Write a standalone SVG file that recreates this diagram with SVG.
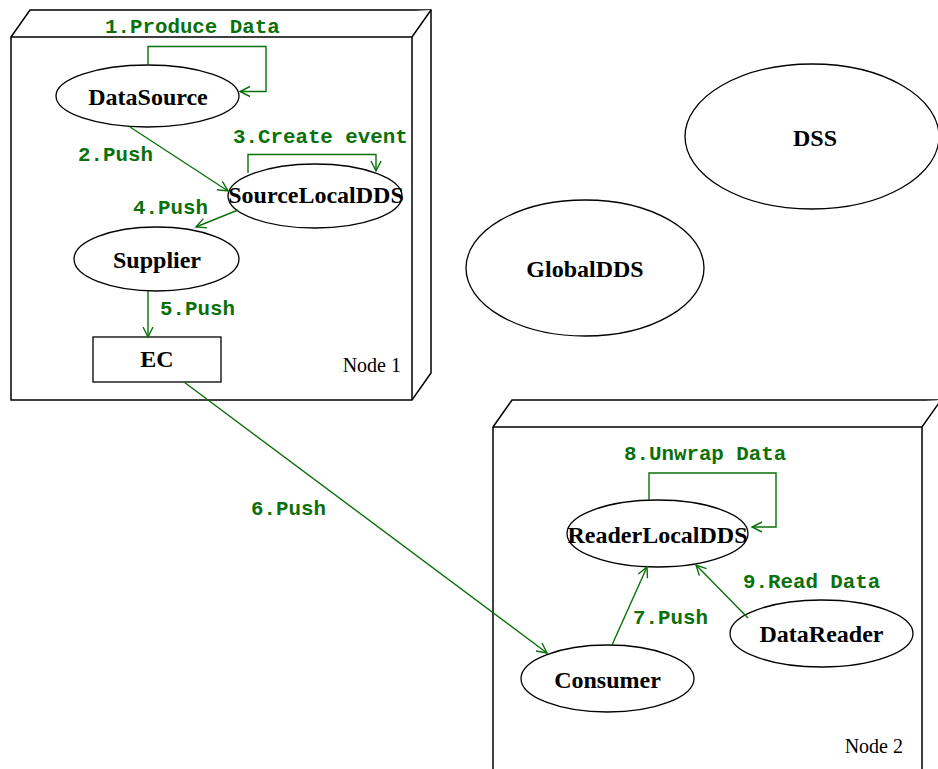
<svg xmlns="http://www.w3.org/2000/svg" width="938" height="769" viewBox="0 0 938 769">
<style>
.box{fill:#fff;stroke:#000;stroke-width:1.5}
.nd{fill:#fff;stroke:#000;stroke-width:1.3}
.nt{font-family:"Liberation Serif",serif;font-weight:bold;font-size:24px;fill:#000;text-anchor:middle}
.nl{font-family:"Liberation Serif",serif;font-size:20px;fill:#000;text-anchor:end}
.c{fill:none;stroke:#0a700a;stroke-width:1.4}
.cl{font-family:"Liberation Mono",monospace;font-weight:bold;font-size:20.8px;fill:#0a700a}
</style>
<defs>
<marker id="ah" markerUnits="userSpaceOnUse" markerWidth="14" markerHeight="14" refX="11" refY="6" orient="auto">
<path d="M1,1 L11,6 L1,11" fill="none" stroke="#0a700a" stroke-width="1.4"/>
</marker>
</defs>
<g id="node1">
<path class="box" d="M11,37 L30,10 L431,10 L431,373 L412,400 L11,400 Z"/>
<path class="box" d="M11,37 L412,37 L431,10 M412,37 L412,400"/>
<text class="nl" x="401" y="372">Node 1</text>
</g>
<g id="node2">
<path class="box" d="M493,427 L512,400 L941,400 L941,780 L493,780 Z"/>
<path class="box" d="M493,427 L922,427 L941,400 M922,427 L922,780"/>
<text class="nl" x="903" y="753">Node 2</text>
</g>
<g id="DSS"><ellipse class="nd" cx="812" cy="136.5" rx="127" ry="72.5"/><text class="nt" x="815" y="146">DSS</text></g>
<g id="GlobalDDS"><ellipse class="nd" cx="585" cy="268" rx="119" ry="68"/><text class="nt" x="585" y="277">GlobalDDS</text></g>
<g id="DataSource"><ellipse class="nd" cx="147.5" cy="96" rx="91.5" ry="31"/><text class="nt" x="148" y="105">DataSource</text></g>
<g id="SourceLocalDDS"><ellipse class="nd" cx="315" cy="196" rx="87" ry="32"/><text class="nt" x="316" y="203">SourceLocalDDS</text></g>
<g id="Supplier"><ellipse class="nd" cx="156.5" cy="259" rx="82.5" ry="32"/><text class="nt" x="157" y="268">Supplier</text></g>
<g id="EC"><rect class="nd" x="93" y="337" width="128" height="45"/><text class="nt" x="157" y="367">EC</text></g>
<g id="ReaderLocalDDS"><ellipse class="nd" cx="657.5" cy="533.5" rx="90.5" ry="33.5"/><text class="nt" x="657.5" y="543">ReaderLocalDDS</text></g>
<g id="Consumer"><ellipse class="nd" cx="607.5" cy="678.5" rx="86.5" ry="33.5"/><text class="nt" x="607.5" y="688">Consumer</text></g>
<g id="DataReader"><ellipse class="nd" cx="821.5" cy="633.5" rx="91.5" ry="33.5"/><text class="nt" x="821.5" y="642">DataReader</text></g>
<g id="connectors">
<path class="c" marker-end="url(#ah)" d="M148,65 L148,46.5 L266,46.5 L266,91.5 L240,91.5"/>
<path class="c" marker-end="url(#ah)" d="M130,127 L228,191"/>
<path class="c" marker-end="url(#ah)" d="M248,173 L248,154.5 L376,154.5 L376,171"/>
<path class="c" marker-end="url(#ah)" d="M238,210 L196,227"/>
<path class="c" marker-end="url(#ah)" d="M148,291 L148,337"/>
<path class="c" marker-end="url(#ah)" d="M184,382 L547,653"/>
<path class="c" marker-end="url(#ah)" d="M612,645 L647,567"/>
<path class="c" marker-end="url(#ah)" d="M649,500 L649,473 L776,473 L776,527 L752,527"/>
<path class="c" marker-end="url(#ah)" d="M748,618 L696,565"/>
<text class="cl" x="105" y="33">1.Produce Data</text>
<text class="cl" x="78" y="161">2.Push</text>
<text class="cl" x="233" y="143">3.Create event</text>
<text class="cl" x="133" y="214">4.Push</text>
<text class="cl" x="160" y="315">5.Push</text>
<text class="cl" x="251" y="515">6.Push</text>
<text class="cl" x="633" y="624">7.Push</text>
<text class="cl" x="624" y="460">8.Unwrap Data</text>
<text class="cl" x="743" y="588">9.Read Data</text>
</g>
</svg>
